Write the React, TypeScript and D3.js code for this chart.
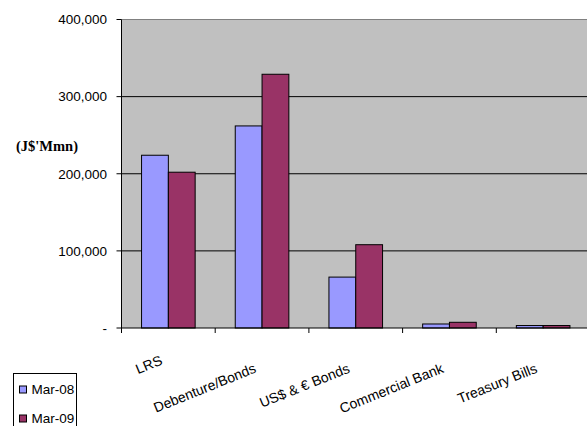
import React from "react";
import * as d3 from "d3";

const categories = ["LRS", "Debenture/Bonds", "US$ & € Bonds", "Commercial Bank", "Treasury Bills"];
const seriesNames = ["Mar-08", "Mar-09"];
const mar08 = [224000, 262000, 66000, 5200, 3200];
const mar09 = [202000, 329000, 108000, 7400, 3200];
const yTicks = [0, 100000, 200000, 300000, 400000];
const colors = ["#9999FF", "#993366"];

export default function App() {
  const W = 587, H = 426;
  const left = 121.5, top = 19.5, bottom = 328;
  const right = left + 5 * 93.7;
  const x = d3.scaleBand().domain(categories).range([left, right]).paddingInner(0).paddingOuter(0);
  const inner = d3.scaleBand().domain(seriesNames).range([0, x.bandwidth()]).paddingInner(0).paddingOuter(0.748);
  const y = d3.scaleLinear().domain([0, 400000]).range([bottom, top]);
  const series = [mar08, mar09];
  const fmt = (v: number) => (v === 0 ? "-" : d3.format(",")(v));
  const font = "'Liberation Sans', Arial, sans-serif";

  return (
    <svg width={W} height={H} style={{ position: "absolute", left: 0, top: 0 }} fontFamily={font}>
      <rect x={left} y={top} width={right - left} height={bottom - top} fill="#C0C0C0" />
      <line x1={left} x2={right} y1={top} y2={top} stroke="#808080" strokeWidth={1} />
      {yTicks.filter(t => t > 0 && t < 400000).map(t => (
        <line key={t} x1={left} x2={right} y1={y(t)} y2={y(t)} stroke="#000" strokeWidth={1} />
      ))}
      {categories.map((c, i) => (
        <g key={c}>
          {series.map((s, j) => (
            <rect key={j} x={(x(c) as number) + (inner(seriesNames[j]) as number)} y={y(s[i])}
              width={inner.bandwidth()} height={bottom - y(s[i])} fill={colors[j]} stroke="#000" strokeWidth={1} />
          ))}
        </g>
      ))}
      <line x1={left} x2={left} y1={top} y2={bottom} stroke="#000" strokeWidth={1} />
      <line x1={left} x2={right} y1={bottom} y2={bottom} stroke="#000" strokeWidth={1} />
      {yTicks.map(t => (
        <g key={t}>
          <line x1={left - 5} x2={left} y1={y(t)} y2={y(t)} stroke="#000" />
          <text x={107} y={y(t)} dy="0.36em" textAnchor="end" fontSize={13.5} fill="#000">{fmt(t)}</text>
        </g>
      ))}
      {categories.map((c, i) => (
        <line key={"t" + i} x1={x(c)} x2={x(c)} y1={bottom} y2={bottom + 5} stroke="#000" />
      ))}
      {categories.map((c, i) => {
        const cx = (x(c) as number) + x.bandwidth() / 2 - 5;
        const cy = c.length < 5 ? 364 : 372;
        return (
          <text key={"l" + i} x={cx} y={cy} textAnchor="end" fontSize={14} fill="#000"
            transform={`rotate(-22, ${cx}, ${cy})`}>{c}</text>
        );
      })}
      <text x={16} y={151} fontFamily="'Liberation Serif', 'Times New Roman', serif" fontWeight="bold" fontSize={14.5} fill="#000">(J$'Mmn)</text>
      <rect x={13.5} y={373.5} width={63} height={60} fill="#fff" stroke="#000" strokeWidth={1} />
      {seriesNames.map((n, j) => (
        <g key={n}>
          <rect x={19.5} y={386 + j * 29} width={7} height={7} fill={colors[j]} stroke="#000" />
          <text x={31.5} y={389.5 + j * 29} dy="0.36em" fontSize={13.5} fill="#000">{n}</text>
        </g>
      ))}
    </svg>
  );
}
